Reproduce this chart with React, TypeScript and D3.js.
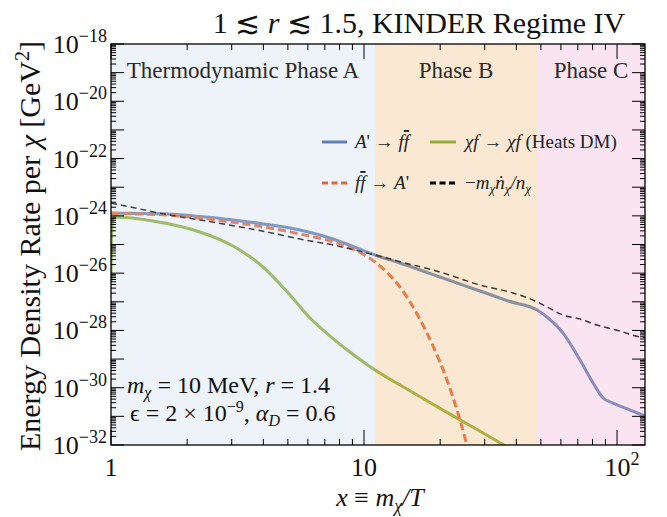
import React from 'react';
import * as d3 from 'd3';

// ---- data ----
const xBlue = [1, 1.302, 1.665, 2.247, 3.035, 4.136, 5.585, 7.542, 10.28, 11.05, 13.88, 16.65, 21.87, 28.74, 37.77, 48.3, 52.9, 61.2, 71.4, 80.4, 88.1, 96.4, 112.6, 129];
const yBlue = [1.26e-24, 1.21e-24, 1.16e-24, 9.5e-25, 7.2e-25, 5.0e-25, 3.2e-25, 1.55e-25, 5.46e-26, 4.3e-26, 2.26e-26, 1.29e-26, 5.52e-27, 2.38e-27, 1.02e-27, 5.15e-28, 2.94e-28, 8.1e-29, 9.25e-30, 1.46e-30, 4.36e-31, 2.92e-31, 1.66e-31, 1.03e-31];

const xOrange = [1, 1.302, 1.665, 2.247, 3.035, 4.136, 5.585, 7.542, 8.8, 10.28, 11.05, 12.67, 13.88, 16.2, 18.74, 21.28, 23.31, 25.07, 26.72];
const yOrange = [1.21e-24, 1.16e-24, 1.07e-24, 8.4e-25, 5.95e-25, 3.92e-25, 2.32e-25, 1.25e-25, 7.85e-26, 3.81e-26, 2.45e-26, 8.26e-27, 3.27e-27, 3.74e-28, 2.85e-29, 1.85e-30, 1.66e-31, 1.75e-32, 1.84e-33];

const xGreen = [1, 1.003, 1.008, 1.015, 1.037, 1.302, 1.665, 2.247, 3.035, 3.953, 5.1, 6.116, 7.338, 8.8, 11.05, 13.88, 21.87, 35.1, 41.4];
const yGreen = [4.9e-27, 6.4e-26, 3.76e-25, 7.76e-25, 9.1e-25, 7.76e-25, 5.4e-25, 2.73e-25, 8.85e-26, 1.77e-26, 1.72e-27, 2.71e-28, 6.37e-29, 1.76e-29, 4.14e-30, 1.24e-30, 1.2e-31, 1.08e-32, 4.5e-33];

const xBlack = [1, 1.302, 1.665, 2.247, 3.035, 4.136, 5.585, 7.542, 10.28, 11.05, 13.88, 19.97, 28.74, 38.8, 48.3, 52.7, 61.2, 71.4, 83.2, 102.8, 123.3, 129];
const yBlack = [2.81e-24, 1.73e-24, 1.11e-24, 7.2e-25, 4.53e-25, 2.73e-25, 1.55e-25, 9.6e-26, 5.04e-26, 4.3e-26, 2.51e-26, 1.09e-26, 3.85e-27, 2.02e-27, 1.0e-27, 6.7e-28, 3.45e-28, 2.5e-28, 1.55e-28, 9.5e-29, 5.9e-29, 5.6e-29];

const phaseEdges = [1, 11.05, 48.3, 129];
const phaseLabels = ['Thermodynamic Phase A', 'Phase B', 'Phase C'];
const phaseColors = ['rgb(200,213,235)', 'rgb(240,180,110)', 'rgb(240,165,210)'];

const yLabelExps = [-18, -20, -22, -24, -26, -28, -30, -32];
const xMajor = [1, 10, 100];
const xMajorLabels = ['1', '10', '10'];
const xMajorSup = ['', '', '2'];

const FONT = "'Liberation Serif', 'Times New Roman', serif";
const BLUE = '#5E81B5';
const ORANGE = '#EB6235';
const GREEN = '#8FB032';

export default function App() {
  const L = 111, R = 645, T = 44, B = 445;
  const x = d3.scaleLog().domain([1, 129]).range([L, R]);
  const y = d3.scaleLog().domain([1e-32, 1e-18]).range([B, T]);
  const line = d3.line<[number, number]>().x(d => x(d[0])).y(d => y(d[1])).curve(d3.curveMonotoneX);
  const zip = (a: number[], b: number[]) => a.map((v, i) => [v, b[i]] as [number, number]);

  // ticks
  const yDecades: number[] = [];
  const yMinor: number[] = [];
  for (let e = -32; e <= -18; e++) {
    yDecades.push(Math.pow(10, e));
    if (e < -18) for (let m = 2; m <= 9; m++) yMinor.push(m * Math.pow(10, e));
  }
  const xMinor: number[] = [];
  for (let e = 0; e <= 2; e++) for (let m = 2; m <= 9; m++) {
    const v = m * Math.pow(10, e);
    if (v < 129) xMinor.push(v);
  }

  return (
    <svg width={667} height={517} style={{ position: 'absolute', left: 0, top: 0, background: '#fff' }} fontFamily={FONT}>
      <defs>
        <clipPath id="plot"><rect x={L} y={T} width={R - L} height={B - T} /></clipPath>
      </defs>

      {/* curves */}
      <g clipPath="url(#plot)" fill="none">
        <path d={line(zip(xGreen, yGreen)) || ''} stroke={GREEN} strokeWidth={3} />
        <path d={line(zip(xBlue, yBlue)) || ''} stroke={BLUE} strokeWidth={3} />
        <path d={line(zip(xOrange, yOrange)) || ''} stroke={ORANGE} strokeWidth={3} strokeDasharray="8 4" />
        <path d={line(zip(xBlack, yBlack)) || ''} stroke="#000" strokeWidth={1.5} strokeDasharray="6 4" />
      </g>

      {/* phase overlays */}
      {phaseLabels.map((p, i) => (
        <rect key={p} x={x(phaseEdges[i])} y={T} width={x(phaseEdges[i + 1]) - x(phaseEdges[i])} height={B - T}
          fill={phaseColors[i]} opacity={0.3} />
      ))}
      {phaseLabels.map((p, i) => (
        <text key={p + 't'} x={(x(phaseEdges[i]) + x(phaseEdges[i + 1])) / 2} y={78} textAnchor="middle" fontSize={23} fill="#2a2a2a">{p}</text>
      ))}

      {/* legend */}
      <g fontSize={19} fill="#222">
        <line x1={322} x2={347} y1={142} y2={142} stroke={BLUE} strokeWidth={3} />
        <text x={355} y={148}><tspan fontStyle="italic">A</tspan>' → <tspan fontStyle="italic">f</tspan><tspan fontStyle="italic" style={{ textDecoration: 'overline' }}>f</tspan></text>
        <line x1={430} x2={456} y1={142} y2={142} stroke={GREEN} strokeWidth={3} />
        <text x={465} y={148}><tspan fontStyle="italic">χf</tspan> → <tspan fontStyle="italic">χf</tspan> (Heats DM)</text>
        <line x1={322} x2={347} y1={183} y2={183} stroke={ORANGE} strokeWidth={3} strokeDasharray="6 3.5" />
        <text x={355} y={189}><tspan fontStyle="italic">f</tspan><tspan fontStyle="italic" style={{ textDecoration: 'overline' }}>f</tspan> → <tspan fontStyle="italic">A</tspan>'</text>
        <line x1={430} x2={456} y1={183} y2={183} stroke="#000" strokeWidth={3} strokeDasharray="6 3.5" />
        <text x={465} y={189}>−<tspan fontStyle="italic">m</tspan><tspan fontStyle="italic" fontSize={13} dy={4}>χ</tspan><tspan fontStyle="italic" dy={-4}>ṅ</tspan><tspan fontStyle="italic" fontSize={13} dy={4}>χ</tspan><tspan fontStyle="italic" dy={-4}>/n</tspan><tspan fontStyle="italic" fontSize={13} dy={4}>χ</tspan></text>
      </g>

      {/* annotation */}
      <g fontSize={24} fill="#111">
        <text x={127} y={393}><tspan fontStyle="italic">m</tspan><tspan fontStyle="italic" fontSize={16} dy={5}>χ</tspan><tspan dy={-5}> = 10 MeV, </tspan><tspan fontStyle="italic">r</tspan> = 1.4</text>
        <text x={130} y={421}>ϵ = 2 × 10<tspan fontSize={16} dy={-9}>−9</tspan><tspan dy={9}>, </tspan><tspan fontStyle="italic">α</tspan><tspan fontStyle="italic" fontSize={16} dy={5}>D</tspan><tspan dy={-5}> = 0.6</tspan></text>
      </g>

      {/* frame & ticks */}
      <rect x={L} y={T} width={R - L} height={B - T} fill="none" stroke="#000" strokeWidth={1.3} />
      <g stroke="#000" strokeWidth={1}>
        {yDecades.map(v => (
          <g key={'yd' + v}>
            <line x1={L} x2={L + 13} y1={y(v)} y2={y(v)} />
            <line x1={R} x2={R - 13} y1={y(v)} y2={y(v)} />
          </g>
        ))}
        {yMinor.map(v => (
          <g key={'ym' + v}>
            <line x1={L} x2={L + 5} y1={y(v)} y2={y(v)} />
            <line x1={R} x2={R - 5} y1={y(v)} y2={y(v)} />
          </g>
        ))}
        {xMajor.map(v => (
          <g key={'xd' + v}>
            <line x1={x(v)} x2={x(v)} y1={B} y2={B - 15} />
            <line x1={x(v)} x2={x(v)} y1={T} y2={T + 15} />
          </g>
        ))}
        {xMinor.map(v => (
          <g key={'xm' + v}>
            <line x1={x(v)} x2={x(v)} y1={B} y2={B - 6} />
            <line x1={x(v)} x2={x(v)} y1={T} y2={T + 6} />
          </g>
        ))}
      </g>

      {/* tick labels */}
      <g fontSize={26} fill="#111">
        {yLabelExps.map(e => (
          <text key={'yl' + e} x={107} y={y(Math.pow(10, e)) + 9} textAnchor="end">10<tspan fontSize={18} dy={-11}>−{Math.abs(e)}</tspan></text>
        ))}
        {xMajor.map((v, i) => (
          <text key={'xl' + v} x={x(v) + (xMajorSup[i] ? 5 : 0)} y={476} textAnchor="middle">{xMajorLabels[i]}<tspan fontSize={18} dy={-11}>{xMajorSup[i]}</tspan></text>
        ))}
      </g>

      {/* axis titles */}
      <text x={380} y={506} textAnchor="middle" fontSize={26} fill="#111">
        <tspan fontStyle="italic">x</tspan> ≡ <tspan fontStyle="italic">m</tspan><tspan fontStyle="italic" fontSize={18} dy={6}>χ</tspan><tspan fontStyle="italic" dy={-6}>/T</tspan>
      </text>
      <text transform="translate(40,246) rotate(-90)" textAnchor="middle" fontSize={30} fill="#111">
        Energy Density Rate per <tspan fontStyle="italic">χ</tspan> [GeV<tspan fontSize={20} dy={-11}>2</tspan><tspan dy={11}>]</tspan>
      </text>
      <text x={419} y={33} textAnchor="middle" fontSize={30} fill="#111">
        1 ≲ <tspan fontStyle="italic">r</tspan> ≲ 1.5, KINDER Regime IV
      </text>
    </svg>
  );
}
